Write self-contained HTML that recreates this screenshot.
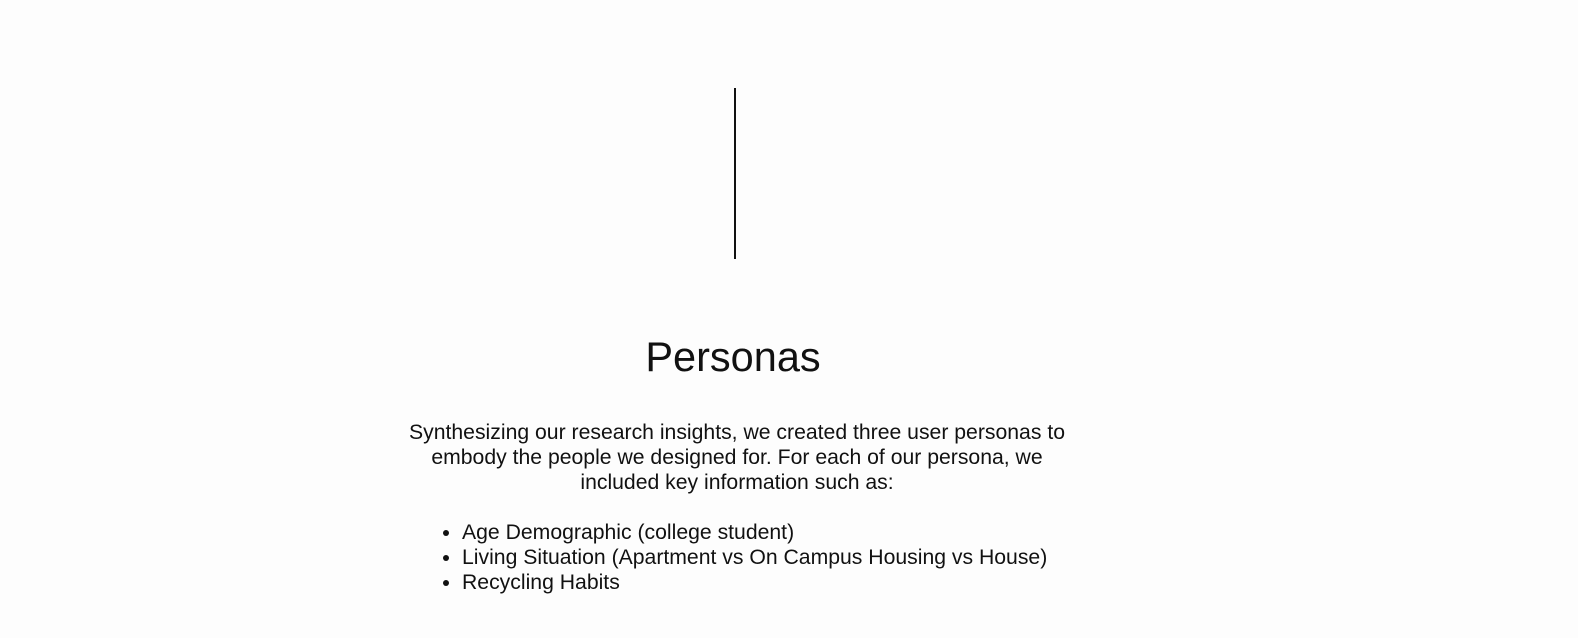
<!DOCTYPE html>
<html>
<head>
<meta charset="utf-8">
<style>
  html, body { margin:0; padding:0; }
  body { width:1578px; height:638px; background:#fdfdfd; position:relative; overflow:hidden;
         font-family:"Liberation Sans", sans-serif; color:#111; }
  .divider { position:absolute; left:734px; top:88px; width:2px; height:171px; background:#111; }
  h1 { position:absolute; left:0; width:1466px; top:329px; margin:0; text-align:center;
       font-weight:normal; font-size:41.5px; line-height:56px; color:#111; }
  .line { position:absolute; left:0; width:1474px; text-align:center; font-size:21.2px; line-height:25px; }
  ul { position:absolute; left:424px; top:520px; margin:0; padding-left:38px; font-size:21.2px; line-height:25px; }
</style>
</head>
<body>
  <div class="divider"></div>
  <h1>Personas</h1>
  <div>
    <div class="line" style="top:420px">Synthesizing our research insights, we created three user personas to</div>
    <div class="line" style="top:445px">embody the people we designed for. For each of our persona, we</div>
    <div class="line" style="top:470px">included key information such as:</div>
  </div>
  <ul>
    <li>Age Demographic (college student)</li>
    <li>Living Situation (Apartment vs On Campus Housing vs House)</li>
    <li>Recycling Habits</li>
  </ul>
</body>
</html>
